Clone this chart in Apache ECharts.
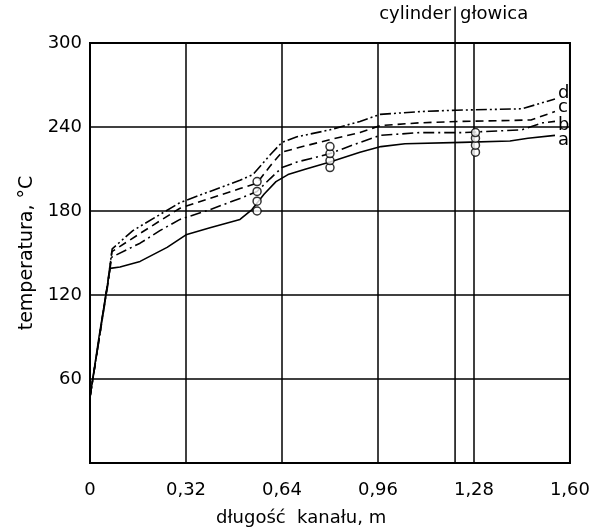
<!DOCTYPE html>
<html>
<head>
<meta charset="utf-8">
<script src="https://cdn.jsdelivr.net/npm/echarts@6/dist/echarts.min.js"></script>
<style>
  html, body { margin: 0; padding: 0; background: #fff; }
  #main { width: 593px; height: 531px; }
</style>
</head>
<body>
<div id="main"></div>
<script>
// krzywe a-d: [długość kanału m, temperatura °C]
var curveA = [[0,47],[0.03,90],[0.067,139],[0.1,140],[0.167,144],[0.257,154],[0.32,163],[0.4,168],[0.5,174],[0.54,181],[0.58,192],[0.62,201],[0.66,206],[0.72,210],[0.8,215],[0.9,222],[0.97,226],[1.05,228],[1.24,229],[1.4,230],[1.46,232],[1.55,234]];
var curveB = [[0,47],[0.03,88],[0.06,128],[0.072,147],[0.167,157],[0.233,166],[0.3,174],[0.4,181],[0.5,189],[0.557,194],[0.6,203],[0.64,211],[0.69,215],[0.8,221],[0.9,229],[0.967,234],[1.1,236],[1.24,236],[1.44,238],[1.51,243],[1.55,244]];
var curveC = [[0,47],[0.03,88],[0.06,130],[0.073,151],[0.167,164],[0.3,182],[0.4,189],[0.5,196],[0.557,200],[0.6,212],[0.64,222],[0.69,225],[0.8,231],[0.9,236],[0.967,241],[1.1,243],[1.24,244],[1.47,245],[1.55,251]];
var curveD = [[0,47],[0.03,88],[0.06,130],[0.074,153],[0.143,166],[0.3,186],[0.4,194],[0.5,202],[0.543,206],[0.6,220],[0.64,229],[0.69,233],[0.8,238],[0.9,244],[0.967,249],[1.1,251],[1.22,252],[1.44,253],[1.55,260]];

// punkty pomiarowe (kółka)
var circles = [[0.557,180],[0.557,187],[0.557,194],[0.557,201],
               [0.8,211],[0.8,216],[0.8,221],[0.8,226],
               [1.285,222],[1.285,227],[1.285,232],[1.285,236]];

// granica cylinder | głowica
var dividerX = 1.217;
var dividerTop = 326;

var chart = echarts.init(document.getElementById('main'));
var font = 'DejaVu Sans';
var dash = function (name, pts, type, off) {
  return {
    name: name,
    type: 'line',
    data: pts,
    symbol: 'none',
    lineStyle: { color: '#000', width: 1.6, type: type, join: 'round' },
    endLabel: {
      show: true, formatter: name, color: '#000',
      fontFamily: font, fontSize: 18, distance: 3, offset: off
    }
  };
};

chart.setOption({
  animation: false,
  grid: { left: 90, right: 23, top: 43, bottom: 68, show: true, borderColor: '#000', borderWidth: 2 },
  xAxis: {
    type: 'value', min: 0, max: 1.6, interval: 0.32,
    axisLine: { lineStyle: { color: '#000', width: 2 } },
    axisTick: { show: false },
    splitLine: { lineStyle: { color: '#000', width: 1.5 } },
    axisLabel: {
      color: '#000', fontFamily: font, fontSize: 18, margin: 18,
      formatter: function (v) { return v === 0 ? '0' : v.toFixed(2).replace('.', ','); }
    }
  },
  yAxis: {
    type: 'value', min: 0, max: 300, interval: 60,
    name: 'temperatura, °C', nameLocation: 'middle', nameGap: 48,
    nameTextStyle: { color: '#000', fontFamily: font, fontSize: 19 },
    axisLine: { lineStyle: { color: '#000', width: 2 } },
    axisTick: { show: false },
    splitLine: { lineStyle: { color: '#000', width: 1.5 } },
    axisLabel: {
      color: '#000', fontFamily: font, fontSize: 18, margin: 8,
      formatter: function (v) { return v === 0 ? '' : String(v); }
    }
  },
  graphic: [
    { type: 'text', left: 216, top: 509, style: { text: 'długość  kanału, m', fill: '#000', font: '18px "DejaVu Sans"' } },
    { type: 'text', right: 142, top: 5, style: { text: 'cylinder', fill: '#000', font: '18px "DejaVu Sans"' } },
    { type: 'text', left: 460, top: 5, style: { text: 'głowica', fill: '#000', font: '18px "DejaVu Sans"' } }
  ],
  series: [
    dash('a', curveA, 'solid', [0, 5]),
    dash('b', curveB, [11, 4, 2, 4], [0, 4]),
    dash('c', curveC, [8, 5], [0, -4]),
    dash('d', curveD, [11, 3, 2, 3, 2, 3], [0, -6]),
    {
      type: 'scatter', data: circles, symbol: 'circle', symbolSize: 8,
      itemStyle: { color: '#fff', borderColor: '#000', borderWidth: 1.5 }, z: 5
    },
    {
      type: 'line', data: [[dividerX, 0], [dividerX, dividerTop]], clip: false,
      symbol: 'none', lineStyle: { color: '#000', width: 1.5 }
    }
  ]
});
</script>
</body>
</html>
